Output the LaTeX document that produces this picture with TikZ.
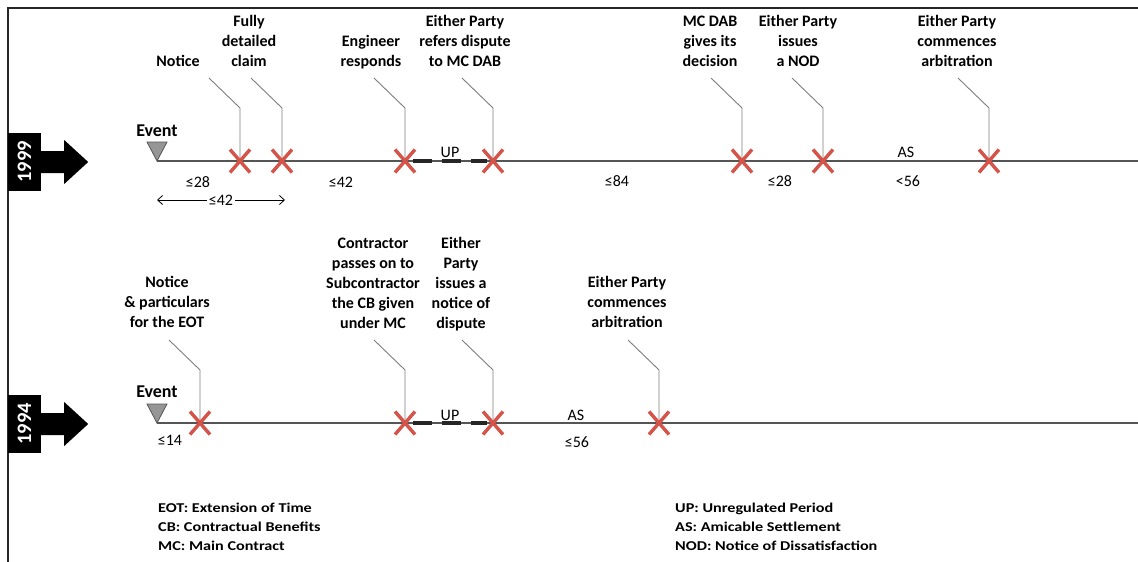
\documentclass[tikz,border=0pt]{standalone}
\usepackage{fontspec}
\setmainfont{Carlito}
\newfontfamily\legendfont[FakeStretch=1.2]{Carlito}
\usetikzlibrary{arrows.meta}

\definecolor{xred}{RGB}{212,84,74}
\definecolor{axis}{RGB}{85,85,85}
\definecolor{leadgray}{RGB}{125,125,125}
\definecolor{evgray}{RGB}{150,150,150}

\tikzset{
  pics/xcross/.style={code={\draw[xred,line width=3.4pt] (-10,-11.5) -- (10,11.5) (-10,11.5) -- (10,-11.5);}},
  axisline/.style={draw=axis,line width=1.3pt},
  leader/.style={draw=leadgray,line width=0.9pt},
  updash/.style={draw=black!85,line width=3.5pt,dash pattern=on 19pt off 10pt},
  % multi-line labels: the base anchor sits on the last line
  steplabel/.style={font=\fontsize{16}{20}\selectfont\bfseries,align=center,anchor=base,inner sep=0pt},
  daylabel/.style={font=\fontsize{16}{19}\selectfont,anchor=base,inner sep=0pt},
  eventlabel/.style={font=\fontsize{18}{21}\selectfont\bfseries,anchor=base,inner sep=0pt},
  yearbox/.style={fill=black,text=white,minimum width=33pt,minimum height=58pt,inner sep=0pt,font=\fontsize{20.5}{23}\selectfont\bfseries},
  eventmark/.style={fill=evgray,draw=axis,line width=0.8pt,line join=miter},
  legend/.style={font=\legendfont\bfseries\fontsize{13.5}{16}\selectfont,anchor=base west,inner sep=0pt},
  frame/.style={draw=black!85,line width=1.4pt},
  barb/.style={{Straight Barb[length=5pt,width=9pt]}-{Straight Barb[length=5pt,width=9pt]},line width=0.8pt},
}

\begin{document}
\begin{tikzpicture}[x=1pt,y=-1pt]
\useasboundingbox (0,0) rectangle (1138,562);
\draw[frame] (8,562) -- (8,8) -- (1138,8);

% ---------------- 1999 ----------------
\node[yearbox] (y99) at (24.5,162) {\rotatebox{90}{1999}};
\fill (y99.east) ++(0,-11) -- ++(23,0) -- ++(0,-11) -- ++(24,22) -- ++(-24,22) -- ++(0,-11) -- ++(-23,0) -- cycle;

\coordinate (ev99) at (157,161);
\coordinate (end99) at (1138,161);
\draw[axisline] (ev99) -- (end99);
\draw[eventmark] (ev99) -- ++(-10,-19) -- ++(20,0) -- cycle;
\node[eventlabel] (evt99) at (157,136) {Event};

\foreach \n/\x in {a/240,b/282,c/405,d/493,e/742,f/823,g/989}
  \coordinate (p99\n) at (\x,161);
\foreach \n in {a,b,c,d,e,f,g}
  \draw[leader] (p99\n) -- ++(0,-53) -- ++(-31,-30);
\draw[updash,shorten <=8pt,shorten >=6pt] (p99c) -- (p99d);
\foreach \n in {a,b,c,d,e,f,g}
  \pic at (p99\n) {xcross};

\node[steplabel] (t99a) at (178,66) {Notice};
\node[steplabel] (t99b) at (249,66) {Fully\\detailed\\claim};
\node[steplabel] (t99c) at (371,66) {Engineer\\responds};
\node[steplabel] (t99d) at (465,66) {Either Party\\refers dispute\\to MC DAB};
\node[steplabel] (t99e) at (710,66) {MC DAB\\gives its\\decision};
\node[steplabel] (t99f) at (798,66) {Either Party\\issues\\a NOD};
\node[steplabel] (t99g) at (957,66) {Either Party\\commences\\arbitration};

\node[daylabel] (d99a) at (198,187) {≤28};
\node[daylabel] (d99b) at (341,187) {≤42};
\node[daylabel] (d99c) at (617,186) {≤84};
\node[daylabel] (d99d) at (780,186) {≤28};
\node[daylabel] (d99e) at (908,186) {<56};
\node[daylabel] (u99) at (450,157) {UP};
\node[daylabel] (s99) at (906,157) {AS};

\coordinate (dimL) at (157,200);
\coordinate (dimR) at (285,200);
\draw[barb] (dimL) -- (dimR)
  node[daylabel,anchor=center,midway,fill=white,inner xsep=2pt] (dim) {≤42};

% ---------------- 1994 ----------------
\node[yearbox] (y94) at (24.5,424) {\rotatebox{90}{1994}};
\fill (y94.east) ++(0,-11) -- ++(23,0) -- ++(0,-11) -- ++(24,22) -- ++(-24,22) -- ++(0,-11) -- ++(-23,0) -- cycle;

\coordinate (ev94) at (157,423);
\coordinate (end94) at (1138,423);
\draw[axisline] (ev94) -- (end94);
\draw[eventmark] (ev94) -- ++(-10,-19) -- ++(20,0) -- cycle;
\node[eventlabel] (evt94) at (157,397) {Event};

\foreach \n/\x in {a/200,b/405,c/493,d/659}
  \coordinate (p94\n) at (\x,423);
\foreach \n in {a,b,c,d}
  \draw[leader] (p94\n) -- ++(0,-53) -- ++(-31,-30);
\draw[updash,shorten <=8pt,shorten >=6pt] (p94b) -- (p94c);
\foreach \n in {a,b,c,d}
  \pic at (p94\n) {xcross};

\node[steplabel] (t94a) at (167,327) {Notice\\\& particulars\\for the EOT};
\node[steplabel] (t94b) at (373,328) {Contractor\\passes on to\\Subcontractor\\the CB given\\under MC};
\node[steplabel] (t94c) at (461,328) {Either\\Party\\issues a\\notice of\\dispute};
\node[steplabel] (t94d) at (627,327) {Either Party\\commences\\arbitration};

\node[daylabel] (d94a) at (170,445) {≤14};
\node[daylabel] (u94) at (450,420) {UP};
\node[daylabel] (s94) at (576,420) {AS};
\node[daylabel] (d94b) at (577,447) {≤56};

% ---------------- abbreviations ----------------
\node[legend] (l1) at (158,512) {EOT: Extension of Time};
\node[legend] (l2) at (158,531) {CB: Contractual Benefits};
\node[legend] (l3) at (158,550) {MC: Main Contract};
\node[legend] (l4) at (675,512) {UP: Unregulated Period};
\node[legend] (l5) at (675,531) {AS: Amicable Settlement};
\node[legend] (l6) at (675,550) {NOD: Notice of Dissatisfaction};
\end{tikzpicture}
\end{document}
